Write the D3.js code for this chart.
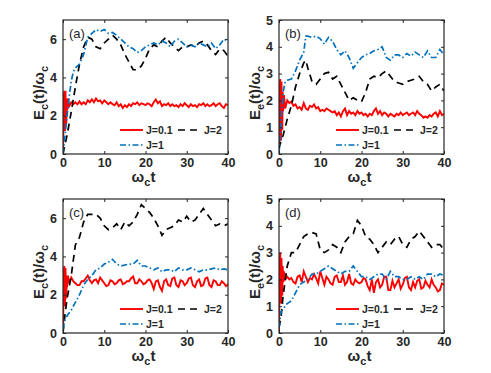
<!DOCTYPE html>
<html>
<head>
<meta charset="utf-8">
<script src="https://cdn.jsdelivr.net/npm/d3@7"></script>
<style>
  body { margin: 0; background: #fff; }
  text { font-family: "Liberation Sans", Arial, sans-serif; fill: #262626; }
</style>
</head>
<body>
<svg id="fig" width="491" height="373"></svg>
<script>
// series values, as [t, value] pairs

const xTicks = [0, 10, 20, 30, 40];
const yTicksC = [0, 2, 4, 6];
const yTicksE = [0, 1, 2, 3, 4, 5];
const legendLabels = ["J=0.1", "J=2", "J=1"];

// panel (a)
const redA = [[0,0],[0.1,1.5],[0.2,3.0],[0.3,3.3],[0.4,2.0],[0.5,1.2],[0.6,3.3],[0.7,2.2],[0.8,1.6],[0.9,2.9],[1.0,2.3],[1.2,2.9],[1.5,2.5],[2,2.7],[2.5,2.6],[3,2.7],[3.5,2.6],[4,2.75],[4.5,2.6],[5,2.7],[5.5,2.6],[6,2.8],[6.5,2.7],[7,2.85],[7.5,2.7],[8,2.9],[8.5,2.75],[9,2.8],[9.5,2.65],[10,2.8],[10.5,2.7],[11,2.6],[11.5,2.7],[12,2.6],[12.5,2.55],[13,2.7],[13.5,2.5],[14,2.6],[14.5,2.4],[15,2.55],[15.5,2.45],[16,2.6],[16.5,2.5],[17,2.65],[17.5,2.6],[18,2.7],[18.5,2.55],[19,2.65],[19.5,2.6],[20,2.55],[20.5,2.65],[21,2.6],[21.5,2.5],[22,2.7],[22.5,2.85],[23,2.65],[23.5,2.75],[24,2.5],[24.5,2.6],[25,2.55],[25.5,2.65],[26,2.5],[26.5,2.6],[27,2.5],[27.5,2.55],[28,2.45],[28.5,2.6],[29,2.5],[29.5,2.65],[30,2.55],[30.5,2.45],[31,2.6],[31.5,2.5],[32,2.55],[32.5,2.45],[33,2.6],[33.5,2.55],[34,2.65],[34.5,2.5],[35,2.6],[35.5,2.5],[36,2.55],[36.5,2.65],[37,2.5],[37.5,2.6],[38,2.65],[38.5,2.5],[39,2.4],[39.5,2.6],[40,2.55]];
const blueA = [[0,0],[0.5,1.0],[1,2.0],[1.5,3.0],[2,3.8],[2.5,4.3],[3,4.5],[4,4.7],[5,5.2],[6,6.1],[7,6.3],[8,6.5],[9,6.4],[10,6.5],[11,6.3],[12,6.35],[13,6.2],[14,6.0],[15,5.8],[16,5.6],[17,5.5],[18,5.3],[19,5.4],[20,5.6],[21,5.7],[22,5.8],[23,5.7],[24,5.9],[25,5.8],[26,5.6],[27,5.9],[28,6.0],[29,5.8],[30,5.6],[31,5.7],[32,5.6],[33,5.8],[34,5.7],[35,5.6],[36,5.8],[37,5.5],[38,5.7],[39,6.0],[40,5.9]];
const blackA = [[0,0],[1,1.0],[2,2.2],[3,3.5],[4,4.7],[5,5.6],[6,6.1],[7,6.0],[8,5.6],[9,5.5],[10,5.8],[11,6.0],[12,6.2],[13,6.0],[14,5.7],[15,5.2],[16,4.8],[17,4.4],[18,4.4],[19,4.6],[20,5.0],[21,5.5],[22,5.7],[23,5.6],[24,5.9],[25,6.1],[26,5.8],[27,5.6],[28,5.4],[29,5.6],[30,5.6],[31,5.7],[32,5.6],[33,5.8],[34,5.9],[35,5.7],[36,5.4],[37,5.2],[38,5.5],[39,5.4],[40,5.1]];

// panel (b)
const redB = [[0,0],[0.1,1.2],[0.2,2.6],[0.3,2.8],[0.4,1.0],[0.5,0.5],[0.6,2.7],[0.7,1.8],[0.8,0.9],[0.9,2.3],[1.0,1.6],[1.2,2.2],[1.5,1.7],[2,2.0],[2.5,1.9],[3,1.95],[3.5,1.8],[4,1.85],[4.5,1.7],[5,1.75],[5.5,1.65],[6,1.9],[6.5,1.7],[7,1.65],[7.5,1.8],[8,1.75],[8.5,1.85],[9,1.7],[9.5,1.75],[10,1.6],[10.5,1.65],[11,1.6],[11.5,1.7],[12,1.65],[12.5,1.6],[13,1.55],[13.5,1.6],[14,1.45],[14.5,1.55],[15,1.4],[15.5,1.6],[16,1.7],[16.5,1.45],[17,1.6],[17.5,1.5],[18,1.55],[18.5,1.45],[19,1.6],[19.5,1.5],[20,1.55],[20.5,1.45],[21,1.5],[21.5,1.4],[22,1.5],[22.5,1.45],[23,1.6],[23.5,1.7],[24,1.5],[24.5,1.6],[25,1.45],[25.5,1.55],[26,1.5],[26.5,1.4],[27,1.5],[27.5,1.45],[28,1.4],[28.5,1.5],[29,1.45],[29.5,1.55],[30,1.45],[30.5,1.5],[31,1.55],[31.5,1.45],[32,1.5],[32.5,1.55],[33,1.45],[33.5,1.6],[34,1.5],[34.5,1.45],[35,1.35],[35.5,1.4],[36,1.35],[36.5,1.45],[37,1.4],[37.5,1.5],[38,1.55],[38.5,1.4],[39,1.6],[39.5,1.45],[40,1.5]];
const blueB = [[0,0],[0.5,1.2],[1,2.3],[1.5,2.7],[2,2.75],[3,2.8],[4,3.1],[5,3.5],[6,3.8],[6.5,4.4],[7,4.4],[8,4.35],[9,4.4],[10,4.3],[11,4.1],[12,4.35],[13,4.2],[14,3.9],[15,3.7],[16,3.85],[17,3.6],[18,3.2],[19,3.4],[20,3.6],[21,3.7],[22,3.75],[23,3.85],[24,3.9],[25,4.0],[26,3.6],[27,3.5],[28,3.7],[29,3.7],[30,3.6],[31,3.75],[32,3.65],[33,3.8],[34,3.7],[35,3.6],[36,3.85],[37,3.6],[38,3.6],[39,3.9],[40,3.7]];
const blackB = [[0,0.2],[0.5,0.5],[1,0.7],[2,1.3],[3,1.8],[4,2.5],[5,3.0],[6,3.4],[6.5,3.5],[7,3.2],[8,2.7],[9,2.6],[10,2.8],[11,3.0],[12,3.05],[13,2.8],[14,2.9],[15,2.6],[16,2.3],[17,2.0],[18,2.1],[19,2.0],[20,1.95],[21,2.3],[22,2.8],[23,2.9],[24,2.85],[25,3.0],[26,3.1],[27,2.9],[28,2.7],[29,2.65],[30,2.6],[31,2.7],[32,2.75],[33,2.8],[34,2.9],[35,2.7],[36,2.6],[37,2.35],[38,2.5],[39,2.6],[40,2.35]];

// panel (c)
const redC = [[0,0],[0.1,1.6],[0.2,3.2],[0.3,3.5],[0.4,2.2],[0.5,1.4],[0.6,3.4],[0.7,2.4],[0.8,1.8],[0.9,3.0],[1.0,2.4],[1.2,3.0],[1.5,2.6],[2,2.9],[2.5,2.7],[3,2.6],[3.5,2.5],[4,2.5],[4.5,2.7],[5,2.7],[5.5,2.85],[6,3.0],[6.5,2.75],[7,2.6],[7.5,2.75],[8,2.8],[8.5,2.6],[9,2.9],[9.5,2.75],[10,2.6],[10.5,2.45],[11,2.5],[11.5,2.75],[12,2.7],[12.5,2.55],[13,2.6],[13.5,2.75],[14,2.8],[14.5,2.55],[15,2.6],[15.5,2.7],[16,2.7],[16.5,2.85],[17,2.95],[17.5,2.6],[18,2.6],[18.5,2.8],[19,2.7],[19.5,2.55],[20,2.6],[20.5,2.75],[21,2.8],[21.5,2.6],[22,2.3],[22.5,2.7],[23,2.75],[23.5,2.4],[24,2.2],[24.5,2.7],[25,2.8],[25.5,2.5],[26,2.45],[26.5,2.85],[27,2.9],[27.5,2.5],[28,2.4],[28.5,2.75],[29,2.7],[29.5,2.5],[30,2.6],[30.5,2.85],[31,2.9],[31.5,2.5],[32,2.4],[32.5,2.7],[33,2.8],[33.5,2.45],[34,2.5],[34.5,2.85],[35,2.9],[35.5,2.5],[36,2.4],[36.5,2.75],[37,2.7],[37.5,2.5],[38,2.5],[38.5,2.7],[39,2.6],[39.5,2.45],[40,2.55]];
const blueC = [[0,0.2],[0.5,0.7],[1,0.9],[2,1.2],[3,1.6],[4,2.0],[5,2.5],[6,2.8],[7,3.0],[8,3.3],[9,3.4],[10,3.6],[11,3.7],[12,3.85],[13,3.6],[14,3.5],[15,3.55],[16,3.6],[17,3.6],[18,3.8],[19,3.5],[20,3.5],[21,3.4],[22,3.3],[23,3.4],[24,3.2],[25,3.3],[26,3.3],[27,3.2],[28,3.4],[29,3.3],[30,3.3],[31,3.4],[32,3.3],[33,3.2],[34,3.3],[35,3.3],[36,3.35],[37,3.4],[38,3.3],[39,3.35],[40,3.3]];
const blackC = [[0,0],[0.5,1.0],[1,1.8],[2,3.0],[3,4.6],[4,5.0],[5,5.8],[6,6.2],[7,6.2],[8,6.2],[9,6.0],[10,5.6],[11,5.4],[12,5.5],[13,5.7],[14,5.4],[15,5.8],[16,5.6],[17,5.8],[18,6.2],[19,6.7],[20,6.5],[21,6.3],[22,6.0],[23,5.6],[24,5.1],[25,5.4],[26,5.5],[27,5.6],[28,5.9],[29,5.8],[30,6.1],[31,5.8],[32,5.9],[33,6.2],[34,6.5],[35,6.2],[36,5.9],[37,5.6],[38,5.7],[39,5.6],[40,5.7]];

// panel (d)
const redD = [[0,0],[0.1,1.4],[0.2,2.8],[0.3,3.0],[0.4,1.6],[0.5,1.1],[0.6,2.8],[0.7,2.0],[0.8,1.4],[0.9,2.5],[1.0,1.9],[1.2,2.3],[1.5,2.0],[2,2.1],[2.5,2.0],[3,2.05],[3.5,1.9],[4,1.85],[4.5,2.1],[5,2.15],[5.5,1.9],[6,2.3],[6.5,2.1],[7,1.9],[7.5,2.05],[8,2.0],[8.5,2.2],[9,2.05],[9.5,1.85],[10,2.3],[10.5,2.05],[11,1.8],[11.5,2.1],[12,2.0],[12.5,1.85],[13,1.8],[13.5,2.1],[14,2.15],[14.5,1.9],[15,1.9],[15.5,2.15],[16,1.8],[16.5,1.9],[17,2.2],[17.5,1.85],[18,1.8],[18.5,2.0],[19,1.9],[19.5,1.85],[20,1.9],[20.5,2.05],[21,2.0],[21.5,1.75],[22,1.6],[22.5,2.0],[23,1.5],[23.5,1.9],[24,2.0],[24.5,1.7],[25,1.8],[25.5,2.1],[26,2.1],[26.5,1.6],[27,1.6],[27.5,1.95],[28,1.7],[28.5,1.85],[29,2.0],[29.5,1.65],[30,1.8],[30.5,2.05],[31,2.1],[31.5,1.7],[32,1.6],[32.5,1.9],[33,1.7],[33.5,1.95],[34,2.0],[34.5,1.65],[35,1.7],[35.5,1.95],[36,1.8],[36.5,1.7],[37,2.0],[37.5,1.8],[38,1.7],[38.5,1.55],[39,1.6],[39.5,1.85],[40,1.8]];
const blueD = [[0,0.2],[0.5,0.8],[1,0.9],[2,1.1],[3,1.2],[4,1.5],[5,1.8],[6,1.9],[7,2.0],[8,2.2],[9,2.2],[10,2.3],[11,2.4],[12,2.5],[13,2.4],[14,2.3],[15,2.2],[16,2.3],[17,2.3],[18,2.5],[19,2.3],[20,2.1],[21,2.1],[22,2.0],[23,2.1],[24,2.2],[25,2.2],[26,2.0],[27,2.3],[28,2.1],[29,2.1],[30,2.0],[31,2.0],[32,2.1],[33,2.0],[34,2.1],[35,2.0],[36,2.2],[37,2.2],[38,2.1],[39,2.2],[40,2.15]];
const blackD = [[0,0.2],[0.5,0.6],[1,1.4],[2,2.5],[3,3.0],[4,3.0],[5,3.3],[6,3.6],[7,3.7],[8,3.75],[9,3.7],[10,3.1],[11,3.0],[12,3.1],[13,3.3],[14,3.2],[15,3.0],[16,3.4],[17,3.6],[18,3.7],[19,4.2],[20,4.0],[21,3.6],[22,3.5],[23,3.3],[24,3.0],[25,3.2],[26,3.4],[27,3.3],[28,3.5],[29,3.6],[30,3.3],[31,3.2],[32,3.5],[33,3.6],[34,3.8],[35,3.6],[36,3.4],[37,3.2],[38,3.3],[39,3.3],[40,3.1]];

const svg = d3.select("#fig");
const axisColor = "#262626";
const styles = {
    red: { color: "#ff0000", dash: null, width: 1.9 },
    black: { color: "#000000", dash: "7,5", width: 1.7 },
    blue: { color: "#0072bd", dash: "6,2.5,1.5,2.5", width: 1.7 }
};

function drawPanel(left, top, opts) {
    const w = 165, h = 134;
    const g = svg.append("g").attr("transform", `translate(${left},${top})`);
    const x = d3.scaleLinear().domain([0, 40]).range([0, w]);
    const y = d3.scaleLinear().domain([0, opts.ymax]).range([h, 0]);

    const clipId = "clip" + opts.tag;
    g.append("clipPath").attr("id", clipId)
        .append("rect").attr("width", w).attr("height", h);

    const line = d3.line().x(d => x(d[0])).y(d => y(d[1]));
    const plot = g.append("g").attr("clip-path", `url(#${clipId})`);
    // draw order: red, black, blue
    [["red", opts.red], ["black", opts.black], ["blue", opts.blue]].forEach(([k, data]) => {
        plot.append("path")
            .datum(data)
            .attr("fill", "none")
            .attr("stroke", styles[k].color)
            .attr("stroke-width", styles[k].width)
            .attr("stroke-dasharray", styles[k].dash)
            .attr("d", line);
    });

    // axes with inward ticks on all four sides
    const fmt = d3.format("d");
    const bottom = g.append("g").attr("transform", `translate(0,${h})`)
        .call(d3.axisBottom(x).tickValues(xTicks).tickSizeInner(-3).tickSizeOuter(0).tickPadding(4).tickFormat(fmt));
    const leftAx = g.append("g")
        .call(d3.axisLeft(y).tickValues(opts.yTicks).tickSizeInner(-3).tickSizeOuter(0).tickPadding(6).tickFormat(fmt));
    const topAx = g.append("g")
        .call(d3.axisTop(x).tickValues(xTicks).tickSizeInner(-3).tickSizeOuter(0).tickFormat(""));
    const rightAx = g.append("g").attr("transform", `translate(${w},0)`)
        .call(d3.axisRight(y).tickValues(opts.yTicks).tickSizeInner(-3).tickSizeOuter(0).tickFormat(""));
    [bottom, leftAx, topAx, rightAx].forEach(a => {
        a.select(".domain").remove();
        a.selectAll("line").attr("stroke", axisColor);
        a.selectAll("text").attr("fill", axisColor)
            .style("font-size", "12.5px").style("font-weight", "bold")
            .style("font-family", "'Liberation Sans', Arial, sans-serif");
    });
    g.append("rect").attr("width", w).attr("height", h)
        .attr("fill", "none").attr("stroke", axisColor).attr("stroke-width", 1.2);

    // panel tag
    g.append("text").attr("x", 6).attr("y", 18)
        .style("font-size", "13px").text(`(${opts.tag})`);

    // x label
    const xl = g.append("text").attr("x", w / 2 - 2).attr("y", h + 28)
        .attr("text-anchor", "middle").style("font-size", "15px").style("font-weight", "bold");
    xl.append("tspan").text("ω");
    xl.append("tspan").attr("dy", 4).style("font-size", "11px").text("c");
    xl.append("tspan").attr("dy", -4).text("t");

    // y label
    const yl = g.append("text")
        .attr("transform", `translate(-19,${h / 2 + 6}) rotate(-90)`)
        .attr("text-anchor", "middle").style("font-size", "15px").style("font-weight", "bold");
    yl.append("tspan").text("E");
    yl.append("tspan").attr("dy", 4).style("font-size", "11px").text(opts.sub);
    yl.append("tspan").attr("dy", -4).text("(t)/ω");
    yl.append("tspan").attr("dy", 4).style("font-size", "11px").text("c");

    // legend
    const lg = g.append("g").attr("transform", `translate(57,${h - 24})`);
    const entries = [
        { k: "red", label: legendLabels[0], dx: 0, dy: 0 },
        { k: "black", label: legendLabels[1], dx: 58, dy: 0 },
        { k: "blue", label: legendLabels[2], dx: 0, dy: 15 }
    ];
    entries.forEach(e => {
        lg.append("line")
            .attr("x1", e.dx).attr("x2", e.dx + 23).attr("y1", e.dy).attr("y2", e.dy)
            .attr("stroke", styles[e.k].color).attr("stroke-width", styles[e.k].width)
            .attr("stroke-dasharray", styles[e.k].dash);
        lg.append("text").attr("x", e.dx + 26).attr("y", e.dy + 4)
            .style("font-size", "10.5px").style("font-weight", "bold").text(e.label);
    });
}

drawPanel(63, 20, { tag: "a", ymax: 7, yTicks: yTicksC, sub: "c", red: redA, black: blackA, blue: blueA });
drawPanel(279, 20, { tag: "b", ymax: 5, yTicks: yTicksE, sub: "e", red: redB, black: blackB, blue: blueB });
drawPanel(63, 199, { tag: "c", ymax: 7, yTicks: yTicksC, sub: "c", red: redC, black: blackC, blue: blueC });
drawPanel(279, 199, { tag: "d", ymax: 5, yTicks: yTicksE, sub: "e", red: redD, black: blackD, blue: blueD });
</script>
</body>
</html>
